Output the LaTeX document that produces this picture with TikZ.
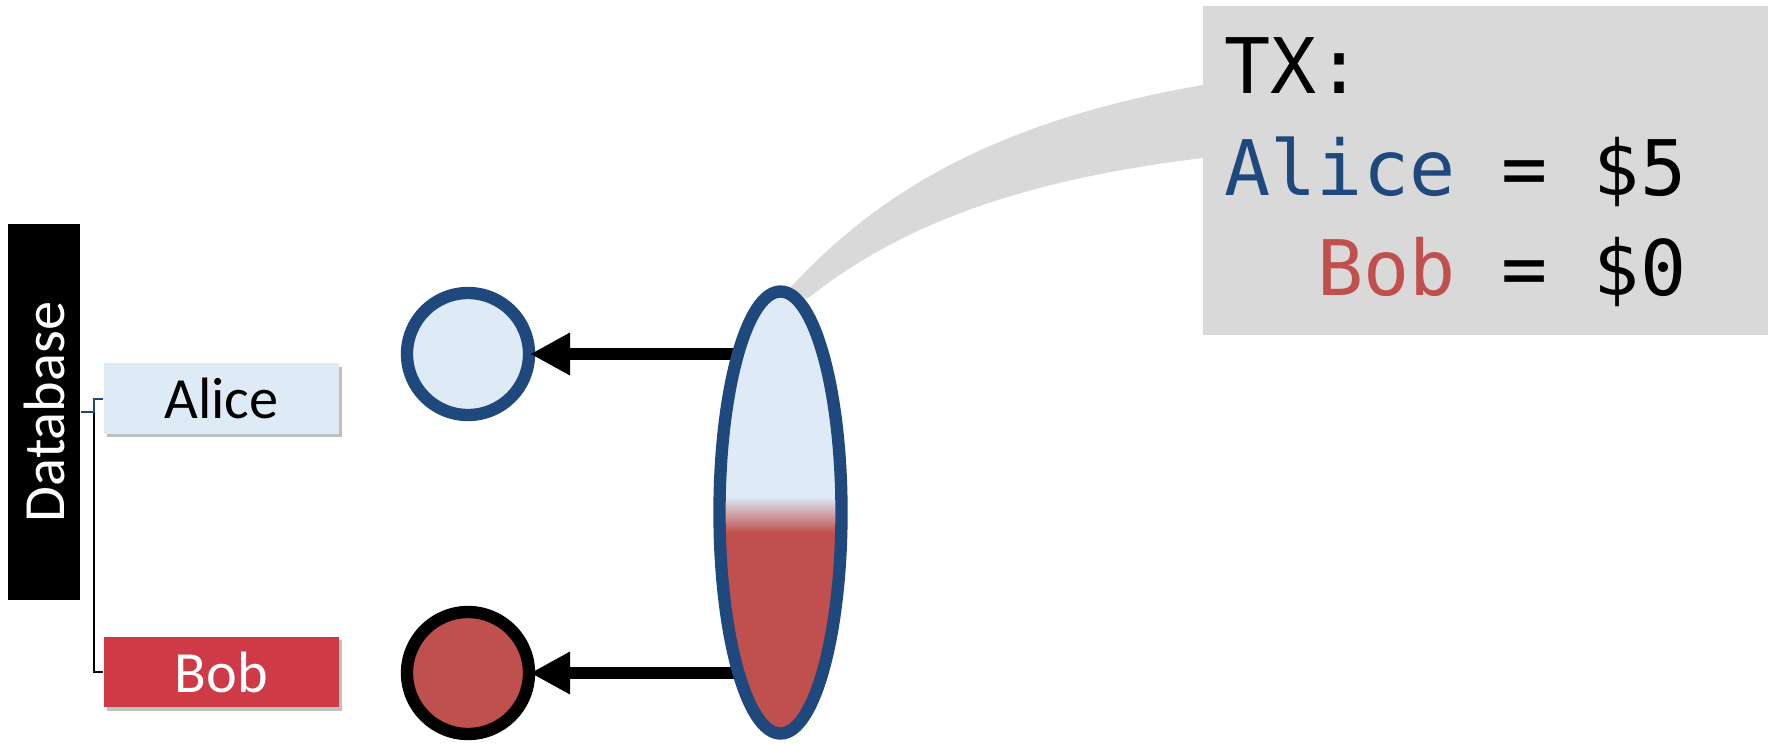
\documentclass[tikz,border=0pt]{standalone}
\usepackage{fontspec}
\usepackage{graphicx}
\setmainfont{Carlito}
\newfontfamily\codefont[RawFeature=+zero]{DejaVu Sans Mono}
\usetikzlibrary{arrows.meta,shapes.geometric,shadows}

\definecolor{txnavy}{HTML}{1F497D}
\definecolor{txpale}{HTML}{DEEBF7}
\definecolor{txred}{HTML}{C0504D}
\definecolor{bobred}{HTML}{CE3B46}
\definecolor{calloutgray}{HTML}{D9D9D9}

% blue on top, red below, short blend in the middle
\pgfdeclareverticalshading{txsplit}{100bp}{color(0bp)=(txred); color(47.7bp)=(txred); color(51.8bp)=(txpale); color(100bp)=(txpale)}

\tikzset{
  namebox/.style={rectangle, inner sep=0, minimum width=70.5pt, minimum height=21.2pt,
    font=\fontsize{17.5}{20}\selectfont,
    drop shadow={shadow xshift=1pt, shadow yshift=-1pt, fill=black, opacity=0.25}},
  account/.style={circle, line width=3.7pt, minimum size=36.6pt, inner sep=0},
  flow/.style={line width=3.7pt, -{Triangle[length=12pt,width=12pt]}, shorten >=-1.5pt},
  codeline/.style={anchor=base west, inner sep=0, font=\codefont\fontsize{23}{27}\selectfont},
}

\begin{document}
\begin{tikzpicture}[x=0.3pt,y=-0.3pt]
	\useasboundingbox (0,0) rectangle (1770,744);

	% database and its entries
	\node[fill=black, text=white, inner sep=0, minimum width=21.6pt, minimum height=112.8pt,
	      font=\fontsize{17.5}{20}\selectfont] (db) at (44,412) {\rotatebox{90}{Database}};
	\node[namebox, fill=txpale] (alice) at (221.5,398.5) {Alice};
	\node[namebox, fill=bobred, text=white] (bob) at (221.5,672) {Bob};
	\draw[line width=0.6pt] (db.east) -- ++(13,0) |- (bob.west);
	\draw[txnavy, line width=0.6pt] (db.east) -- ++(13,0) |- (alice.west);

	% callout with the transaction
	\fill[calloutgray] (790,288) .. controls (880,190) and (1000,120) .. (1203,85)
		-- (1203,158) .. controls (1020,180) and (900,225) .. (807,299) -- cycle;
	\node[fill=calloutgray, inner sep=0, minimum width=169.5pt, minimum height=98.7pt] (txbox) at (1485.5,170.5) {};
	\node[codeline] (txhead) at (1224,93) {TX:};
	\node[codeline] (txalice) at (1224,195) {\textcolor{txnavy}{Alice} = \$5};
	\node[codeline] (txbob) at (1224,295) {\phantom{Al}\textcolor{txred}{Bob} = \$0};

	% accounts and the transaction writing to them
	\node[account, draw=txnavy, fill=txpale] (acirc) at (468,354) {};
	\node[account, draw=black, fill=txred] (bcirc) at (468,673) {};
	\coordinate (txc) at (780.5,512.5);
	\draw[flow] (txc |- acirc.east) -- (acirc.east);
	\draw[flow] (txc |- bcirc.east) -- (bcirc.east);
	\node[ellipse, draw=txnavy, line width=3.7pt, shading=txsplit, inner sep=0,
	      minimum width=36.6pt, minimum height=132.6pt] (tx) at (txc) {};
\end{tikzpicture}
\end{document}
